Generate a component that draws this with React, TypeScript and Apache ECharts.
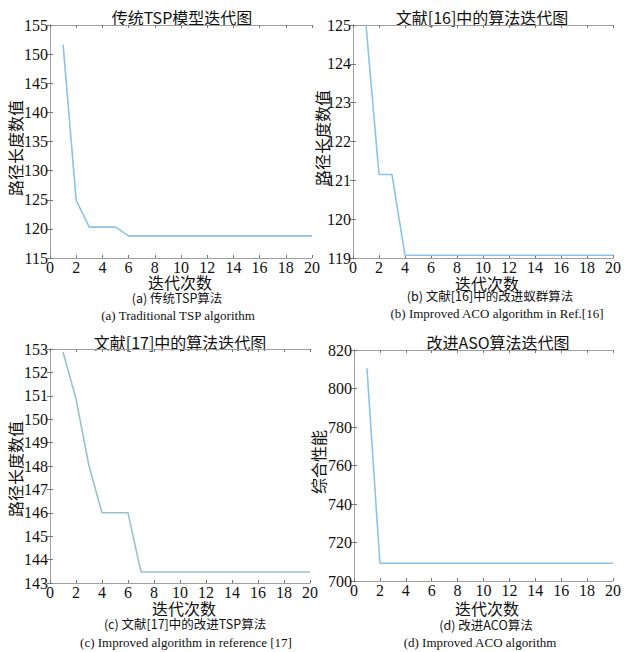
import React, { useEffect, useRef } from "react";
import * as echarts from "echarts";

const iterations = [1, 2, 3, 4, 5, 6, 7, 8, 9, 10, 11, 12, 13, 14, 15, 16, 17, 18, 19, 20];
const seriesA = [151.6, 124.9, 120.3, 120.3, 120.3, 118.8, 118.8, 118.8, 118.8, 118.8, 118.8, 118.8, 118.8, 118.8, 118.8, 118.8, 118.8, 118.8, 118.8, 118.8];
const seriesB = [125.0, 121.15, 121.15, 119.07, 119.07, 119.07, 119.07, 119.07, 119.07, 119.07, 119.07, 119.07, 119.07, 119.07, 119.07, 119.07, 119.07, 119.07, 119.07, 119.07];
const seriesC = [152.87, 150.87, 148.0, 146.0, 146.0, 146.0, 143.47, 143.47, 143.47, 143.47, 143.47, 143.47, 143.47, 143.47, 143.47, 143.47, 143.47, 143.47, 143.47, 143.47];
const seriesD = [810.5, 709.2, 709.2, 709.2, 709.2, 709.2, 709.2, 709.2, 709.2, 709.2, 709.2, 709.2, 709.2, 709.2, 709.2, 709.2, 709.2, 709.2, 709.2, 709.2];

const panelTitles = ["传统TSP模型迭代图", "文献[16]中的算法迭代图", "文献[17]中的算法迭代图", "改进ASO算法迭代图"];
const captionsCn = ["(a) 传统TSP算法", "(b) 文献[16]中的改进蚁群算法", "(c) 文献[17]中的改进TSP算法", "(d) 改进ACO算法"];
const captionsEn = ["(a) Traditional TSP algorithm", "(b) Improved ACO algorithm in Ref.[16]", "(c) Improved algorithm in reference [17]", "(d) Improved ACO algorithm"];
const yNames = ["路径长度数值", "路径长度数值", "路径长度数值", "综合性能"];
const xName = "迭代次数";
const yRanges = [
  [115, 155, 5],
  [119, 125, 1],
  [143, 153, 1],
  [700, 820, 20],
];

const SERIF = "Liberation Serif";
const CJK = "Noto Sans CJK SC";

export default function App() {
  const ref = useRef<HTMLDivElement>(null);
  useEffect(() => {
    document.body.style.margin = "0";
    if (!ref.current) return;
    const chart = echarts.init(ref.current, null, { renderer: "svg" });

    const grids = [
      { left: 50, top: 25, width: 262, height: 233 },
      { left: 353, top: 25, width: 264, height: 233 },
      { left: 50, top: 349, width: 260, height: 234 },
      { left: 354, top: 350, width: 263, height: 231 },
    ];
    const allData = [seriesA, seriesB, seriesC, seriesD];
    const colors = ["#8cc3e6", "#8cc3e6", "#98c3c8", "#8cc3e6"];
    const titlePos = [
      [182, 17],
      [482, 17],
      [180, 342],
      [498, 342],
    ];
    const xNamePos = [
      [180, 282],
      [487, 283],
      [184, 608],
      [487, 608],
    ];
    const yNamePos = [
      [15, 148],
      [322, 138],
      [15, 469],
      [318, 462],
    ];
    const capCnPos = [
      [177, 297],
      [490, 295],
      [185, 623],
      [486, 624],
    ];
    const capEnPos = [
      [178, 315],
      [497, 313],
      [186, 642],
      [480, 642],
    ];

    const frameColor = "#a0a0a0";
    const tickStyle = { show: true, inside: true, length: 3, lineStyle: { color: "#777", width: 1 } };

    const xAxes: any[] = [];
    const yAxes: any[] = [];
    const series: any[] = [];
    const graphics: any[] = [];

    const txt = (x: number, y: number, text: string, font: string, size: number, rot = 0) => ({
      type: "text",
      x,
      y,
      rotation: rot,
      style: { text, fontFamily: font, fontSize: size, fill: "#111", align: "center", verticalAlign: "middle" },
    });

    grids.forEach((g, i) => {
      const [ymin, ymax, yint] = yRanges[i];
      xAxes.push({
        type: "value",
        gridIndex: i,
        position: "bottom",
        min: 0,
        max: 20,
        interval: 2,
        axisLine: { show: true, lineStyle: { color: frameColor, width: 1 } },
        axisTick: tickStyle,
        axisLabel: { fontFamily: SERIF, fontSize: 16, color: "#111", margin: 1 },
        splitLine: { show: false },
      });
      xAxes.push({
        type: "value",
        gridIndex: i,
        position: "top",
        min: 0,
        max: 20,
        interval: 2,
        axisLine: { show: true, lineStyle: { color: frameColor, width: 1 } },
        axisTick: tickStyle,
        axisLabel: { show: false },
        splitLine: { show: false },
      });
      yAxes.push({
        type: "value",
        gridIndex: i,
        position: "left",
        min: ymin,
        max: ymax,
        interval: yint,
        axisLine: { show: true, lineStyle: { color: frameColor, width: 1 } },
        axisTick: tickStyle,
        axisLabel: { fontFamily: SERIF, fontSize: 16, color: "#111", margin: 2 },
        splitLine: { show: false },
      });
      yAxes.push({
        type: "value",
        gridIndex: i,
        position: "right",
        min: ymin,
        max: ymax,
        interval: yint,
        axisLine: { show: true, lineStyle: { color: frameColor, width: 1 } },
        axisTick: tickStyle,
        axisLabel: { show: false },
        splitLine: { show: false },
      });
      series.push({
        type: "line",
        xAxisIndex: 2 * i,
        yAxisIndex: 2 * i,
        data: iterations.map((x, j) => [x, allData[i][j]]),
        showSymbol: false,
        symbol: "none",
        lineStyle: { color: colors[i], width: 1.6 },
        clip: true,
      });
      graphics.push(txt(titlePos[i][0], titlePos[i][1], panelTitles[i], CJK, 16));
      graphics.push(txt(xNamePos[i][0], xNamePos[i][1], xName, CJK, 16));
      graphics.push(txt(yNamePos[i][0], yNamePos[i][1], yNames[i], CJK, 16, Math.PI / 2));
      graphics.push(txt(capCnPos[i][0], capCnPos[i][1], captionsCn[i], CJK, 12.5));
      graphics.push(txt(capEnPos[i][0], capEnPos[i][1], captionsEn[i], SERIF, 13));
    });

    chart.setOption({
      animation: false,
      backgroundColor: "#ffffff",
      textStyle: { fontFamily: SERIF },
      grid: grids.map((g) => ({ ...g, containLabel: false })),
      xAxis: xAxes,
      yAxis: yAxes,
      series,
      graphic: graphics,
    });
    return () => chart.dispose();
  }, []);
  return <div ref={ref} style={{ width: 624, height: 652 }} />;
}
